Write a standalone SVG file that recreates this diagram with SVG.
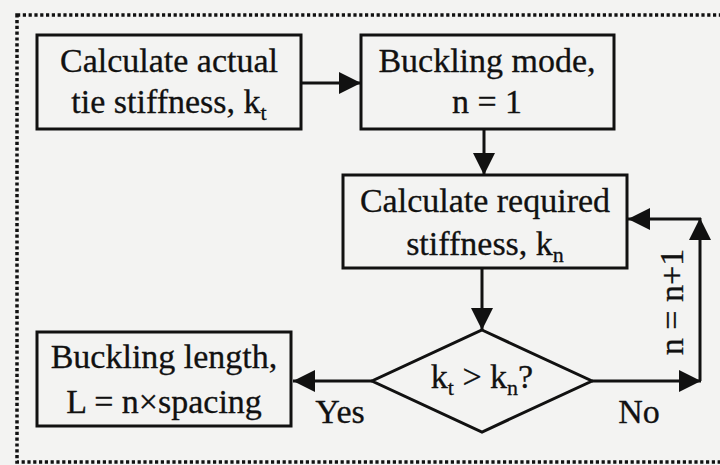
<svg xmlns="http://www.w3.org/2000/svg" width="720" height="465" viewBox="0 0 720 465">
<defs>
<style>
.node{fill:none;stroke:#111;stroke-width:3}
.conn{fill:none;stroke:#111;stroke-width:3}
.t{font-family:"Liberation Serif","Times New Roman",serif;font-size:34px;fill:#111;text-anchor:middle;stroke:#111;stroke-width:0.3}
.sub{font-size:22px}
</style>
<marker id="ah" markerUnits="userSpaceOnUse" markerWidth="26" markerHeight="26" viewBox="0 0 26 26" refX="24" refY="13" orient="auto">
<path d="M2,2 L24,13 L2,24 Z" fill="#111"/>
</marker>
</defs>
<rect width="720" height="465" fill="#f3f3f2"/>
<rect x="17" y="15" width="720" height="447" fill="none" stroke="#111" stroke-width="3.5" stroke-dasharray="3.2 2.6"/>
<g id="n1">
<rect class="node" x="37" y="35" width="264" height="94"/>
<text class="t" x="169" y="72">Calculate actual</text>
<text class="t" x="169" y="113">tie stiffness, k<tspan class="sub" dy="7">t</tspan></text>
</g>
<g id="n2">
<rect class="node" x="361" y="35" width="253" height="94"/>
<text class="t" x="487" y="72">Buckling mode,</text>
<text class="t" x="487" y="113">n = 1</text>
</g>
<g id="n3">
<rect class="node" x="343" y="175" width="284" height="93"/>
<text class="t" x="485" y="212">Calculate required</text>
<text class="t" x="485" y="255">stiffness, k<tspan class="sub" dy="7">n</tspan></text>
</g>
<g id="n4">
<polygon class="node" points="482,330 592,381 482,432 372,381"/>
<text class="t" x="482" y="388">k<tspan class="sub" dy="7">t</tspan><tspan dy="-7"> &gt; k</tspan><tspan class="sub" dy="7">n</tspan><tspan dy="-7">?</tspan></text>
</g>
<g id="n5">
<rect class="node" x="37" y="332" width="254" height="94"/>
<text class="t" x="164" y="368">Buckling length,</text>
<text class="t" x="164" y="413">L = n×spacing</text>
</g>
<g id="connectors">
<line class="conn" x1="301" y1="83" x2="361" y2="83" marker-end="url(#ah)"/>
<line class="conn" x1="484" y1="129" x2="484" y2="175" marker-end="url(#ah)"/>
<line class="conn" x1="482" y1="268" x2="482" y2="330" marker-end="url(#ah)"/>
<line class="conn" x1="372" y1="381" x2="293" y2="381" marker-end="url(#ah)"/>
<line class="conn" x1="592" y1="381" x2="701" y2="381" marker-end="url(#ah)"/>
<line class="conn" x1="700" y1="381" x2="700" y2="218" marker-end="url(#ah)"/>
<line class="conn" x1="701" y1="219" x2="628" y2="219" marker-end="url(#ah)"/>
<text class="t" x="340" y="423">Yes</text>
<text class="t" x="639" y="423">No</text>
<text class="t" transform="translate(683,302) rotate(-90)">n = n+1</text>
</g>
</svg>
